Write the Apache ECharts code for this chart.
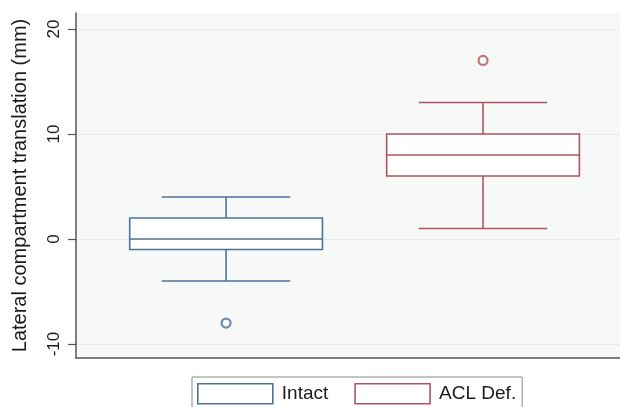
<!DOCTYPE html>
<html>
<head>
<meta charset="utf-8">
<script src="https://cdn.jsdelivr.net/npm/echarts@6/dist/echarts.min.js"></script>
<style>html,body{margin:0;padding:0;background:#fff}#c{width:620px;height:407px}</style>
</head>
<body>
<div id="c"></div>
<script>
var categories = ['Intact', 'ACL Def.'];
var whiskerLow = [-4, 1];
var q1 = [-1, 6];
var median = [0, 8];
var q3 = [2, 10];
var whiskerHigh = [4, 13];
var outliers = [[-8], [17]];
var yTicks = [-10, 0, 10, 20];
var colors = ['#4e7299', '#b0545d'];

var BOX_HALF = 0.375, CAP_HALF = 0.25;

function makeBox(i) {
  return {
    name: categories[i],
    type: 'custom',
    data: [[i + 1, whiskerLow[i], q1[i], median[i], q3[i], whiskerHigh[i]]],
    encode: { x: 0, y: [1, 2, 3, 4, 5] },
    renderItem: function (params, api) {
      var x = api.value(0);
      var lo = api.coord([x, api.value(1)]);
      var b1 = api.coord([x - BOX_HALF, api.value(2)]);
      var b1r = api.coord([x + BOX_HALF, api.value(2)]);
      var md = api.coord([x, api.value(3)]);
      var b3 = api.coord([x - BOX_HALF, api.value(4)]);
      var hi = api.coord([x, api.value(5)]);
      var capL = api.coord([x - CAP_HALF, 0])[0];
      var capR = api.coord([x + CAP_HALF, 0])[0];
      var st = { stroke: colors[i], lineWidth: 1.6, fill: null };
      return {
        type: 'group',
        children: [
          { type: 'line', shape: { x1: lo[0], y1: lo[1], x2: lo[0], y2: b1[1] }, style: st },
          { type: 'line', shape: { x1: hi[0], y1: hi[1], x2: hi[0], y2: b3[1] }, style: st },
          { type: 'line', shape: { x1: capL, y1: lo[1], x2: capR, y2: lo[1] }, style: st },
          { type: 'line', shape: { x1: capL, y1: hi[1], x2: capR, y2: hi[1] }, style: st },
          { type: 'rect', shape: { x: b3[0], y: b3[1], width: b1r[0] - b3[0], height: b1[1] - b3[1] },
            style: { stroke: colors[i], lineWidth: 1.6, fill: '#ffffff' } },
          { type: 'line', shape: { x1: b1[0], y1: md[1], x2: b1r[0], y2: md[1] }, style: st }
        ]
      };
    },
    z: 2
  };
}

function makeOutliers(i) {
  return {
    name: categories[i],
    type: 'scatter',
    data: outliers[i].map(function (v) { return [i + 1, v]; }),
    symbol: 'circle',
    symbolSize: 9,
    itemStyle: { color: 'rgba(0,0,0,0)', borderColor: colors[i], borderWidth: 2.2 },
    z: 3
  };
}

var chart = echarts.init(document.getElementById('c'), null, { renderer: 'canvas' });
chart.setOption({
  animation: false,
  backgroundColor: '#ffffff',
  grid: { left: 76, right: 0, top: 13, bottom: 49, show: true, backgroundColor: '#f7f9f9', borderWidth: 0,
          containLabel: false, outerBoundsMode: 'none' },
  xAxis: {
    type: 'value', min: 0.416, max: 2.533,
    axisLine: { show: true, onZero: false, lineStyle: { color: '#555', width: 1.5 } },
    axisTick: { show: false }, axisLabel: { show: false }, splitLine: { show: false }
  },
  yAxis: {
    type: 'value', min: -11.33, max: 21.52,
    name: 'Lateral compartment translation (mm)',
    nameLocation: 'middle', nameGap: 46,
    nameTextStyle: { fontFamily: 'Liberation Sans', fontSize: 20, color: '#1a1a1a' },
    axisLine: { show: true, lineStyle: { color: '#555', width: 1.5 } },
    axisTick: { show: true, length: 8, customValues: yTicks, lineStyle: { color: '#555', width: 1.2 } },
    axisLabel: { customValues: yTicks, rotate: 90, margin: 13, fontFamily: 'Liberation Sans', fontSize: 17, color: '#1a1a1a' },
    splitLine: { show: true, lineStyle: { color: '#e3ebee', width: 1 } }
  },
  legend: {
    left: 192, top: 377,
    orient: 'horizontal',
    padding: [6, 6, 6, 5],
    itemWidth: 75, itemHeight: 20, itemGap: 26,
    borderColor: '#888', borderWidth: 1,
    textStyle: { fontFamily: 'Liberation Sans', fontSize: 19, color: '#1a1a1a', padding: [0, 0, 0, 4] },
    data: categories.map(function (c, i) {
      return { name: c, icon: 'rect', itemStyle: { color: '#ffffff', borderColor: colors[i], borderWidth: 1.6 } };
    })
  },
  series: [makeBox(0), makeBox(1), makeOutliers(0), makeOutliers(1)]
});
</script>
</body>
</html>
